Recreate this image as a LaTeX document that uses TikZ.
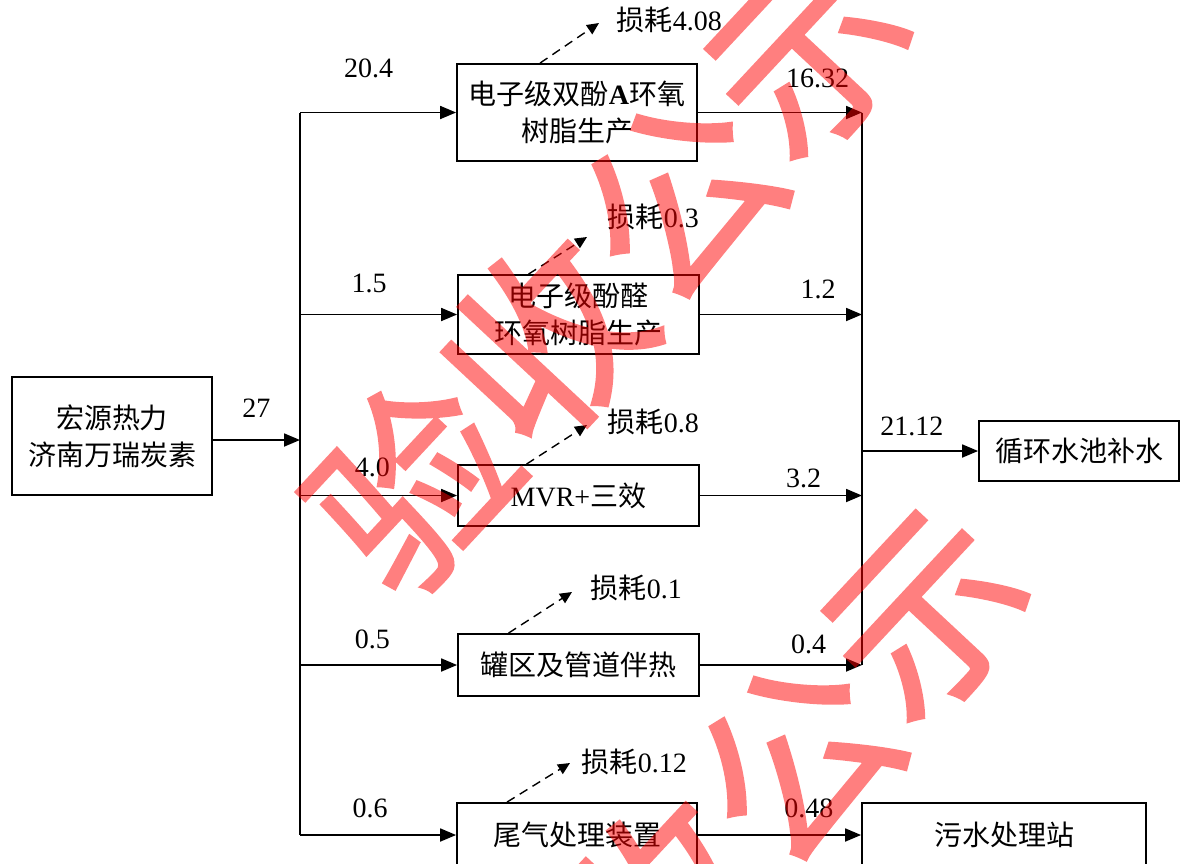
\documentclass[tikz,border=0pt]{standalone}
\usepackage{fontspec}
\setmainfont{Liberation Serif}
\newfontfamily\cjk{Noto Sans CJK SC}
\newfontfamily\wmfont{Noto Sans CJK SC}[FakeBold=1.5]
\usetikzlibrary{arrows.meta, positioning, calc}

\newcommand\txtsize{\fontsize{28}{37}\selectfont}

\begin{document}
\begin{tikzpicture}[x=1pt, y=-1pt, >={Triangle[length=16pt, width=13pt]}, line width=1.8pt, font=\txtsize]

  % --- CONFIGURAÇÕES GERAIS ---
  \useasboundingbox (0,0) rectangle (1181,863);

  % Estilos
  \tikzstyle{box}=[draw, align=center, inner sep=0pt, minimum width=241pt]
  \tikzstyle{zh}=[font=\txtsize\cjk]
  \tikzstyle{val}=[inner sep=0pt]
  \tikzstyle{loss}=[->, >={Triangle[length=12pt, width=11pt]}, dash pattern=on 9pt off 6pt, line width=1.4pt]
  \tikzstyle{wmark}=[rotate=47, text=red, inner sep=0pt, font=\fontsize{195}{195}\selectfont\wmfont]

  % --- FONTE ---
  \node[box, zh, minimum width=200pt, minimum height=118pt] (src) at (112,436) {宏源热力\\济南万瑞炭素};

  % --- PROCESSOS ---
  \node[box, zh, minimum width=240pt, minimum height=97pt] (p1) at (577,112.5) {电子级双酚{\rmfamily\bfseries A}环氧\\树脂生产};
  \node[box, zh, minimum height=79pt] (p2) at (578.5,314.5) {电子级酚醛\\环氧树脂生产};
  \node[box, minimum height=61pt] (p3) at (578.5,495.5) {MVR+{\cjk 三效}};
  \node[box, zh, minimum height=62pt] (p4) at (578.5,665) {罐区及管道伴热};
  \node[box, zh, minimum width=240pt, minimum height=64pt] (p5) at (577,835) {尾气处理装置};

  % --- DESTINOS ---
  \node[box, zh, minimum width=200pt, minimum height=60pt] (pool) at (1079,451) {循环水池补水};
  \node[box, zh, minimum width=284pt, minimum height=64pt] (sew) at (1004,835) {污水处理站};

  % --- DISTRIBUIÇÃO (tronco esquerdo) ---
  \coordinate (tTop) at (300,112.5);
  \coordinate (tBot) at (300,835);
  \coordinate (tIn) at (300,440);

  \draw (tTop) -- (tBot);
  \draw[->] (src.east |- tIn) -- node[val, above=22pt] {27} (tIn);

  \foreach \n/\v/\h/\p in {1/20.4/34pt/0.44, 2/1.5/21pt/0.44, 3/4.0/18pt/0.46, 4/0.5/15pt/0.46, 5/0.6/16pt/0.45} {
    \draw[->] (p\n.west -| tTop) -- node[val, above=\h, pos=\p] {\v} (p\n.west);
  }

  % --- COLETOR (tronco direito) ---
  \coordinate (cTop) at (862,112.5);
  \coordinate (cBot) at (862,665);

  \draw (cTop) -- (cBot);

  \foreach \n/\v/\h/\p in {1/16.32/24pt/0.73, 2/1.2/15pt/0.73, 3/3.2/7pt/0.64, 4/0.4/10pt/0.67} {
    \draw[->] (p\n.east) -- node[val, above=\h, pos=\p] {\v} (p\n.east -| cTop);
  }

  \draw[->] (pool.west -| cTop) -- node[val, above=14pt, pos=0.43] {21.12} (pool.west);
  \draw[->] (p5.east) -- node[val, above=16pt, pos=0.68] {0.48} (sew.west);

  % --- PERDAS (setas tracejadas) ---
  \foreach \n/\dx/\tx/\ty/\lx/\ly/\v in {1/-37/599/23/616/20/4.08, 2/-50/587/237/607/217/0.3, 3/-52/587/425/607/422/0.8, 4/-70/572/592/590/588/0.1, 5/-70/570/763/581/762/0.12} {
    \coordinate (e\n) at (\tx,\ty);
    \node[val, anchor=west] (l\n) at (\lx,\ly) {{\cjk 损耗}\v};
    \draw[loss] ($(p\n.north)+(\dx,0)$) -- (e\n);
  }

  % --- MARCA D'ÁGUA ---
  \begin{scope}[transparency group, opacity=0.5]
    \foreach \c/\x/\y [count=\i] in {验/412/484, 收/545/341, 公/679/198, 示/812/55} {
      \node[wmark] (wa\i) at (\x,\y) {\c};
    }
    \foreach \c/\x/\y [count=\i] in {验/530/1046, 收/663/903, 公/796/760, 示/929/617} {
      \node[wmark] (wb\i) at (\x,\y) {\c};
    }
  \end{scope}

\end{tikzpicture}
\end{document}
